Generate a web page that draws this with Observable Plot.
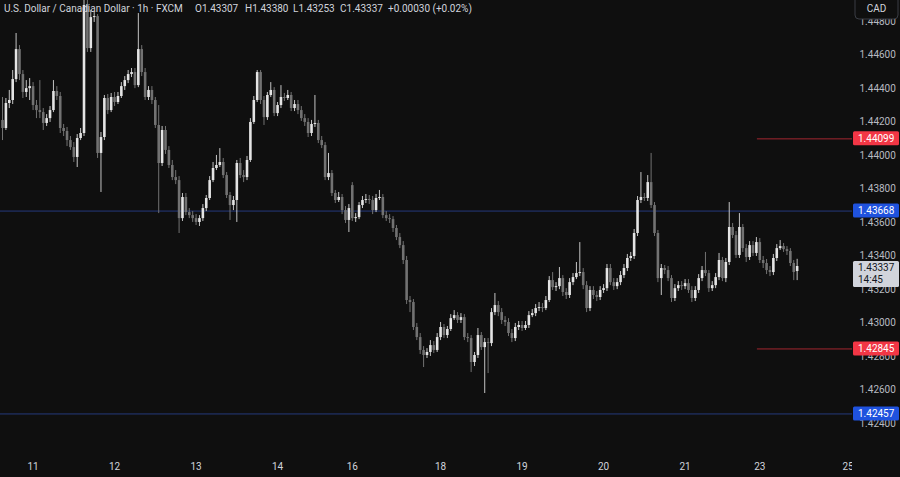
<!DOCTYPE html>
<html>
<head>
<meta charset="utf-8">
<script src="https://cdn.jsdelivr.net/npm/d3@7"></script>
<script src="https://cdn.jsdelivr.net/npm/@observablehq/plot@0.6"></script>
<style>
  html, body { margin:0; padding:0; background:#0f0f0f; }
  #chart { width:900px; height:477px; overflow:hidden; }
  svg { display:block; }
</style>
</head>
<body>
<div id="chart"></div>
<script>
// USD/CAD 1h candles (FXCM)
const open = [
1.44209,1.44161,1.44310,1.44328,1.44453,1.44632,1.44483,1.44376,1.44399,1.44411,
1.44298,1.44268,1.44256,1.44191,1.44220,1.44268,1.44382,1.44352,1.44161,1.44143,
1.44089,1.44047,1.43988,1.44101,1.44131,1.44895,1.44638,1.44823,1.44829,1.44012,
1.44107,1.44340,1.44268,1.44346,1.44316,1.44352,1.44411,1.44447,1.44483,1.44495,
1.44417,1.44632,1.44495,1.44346,1.44388,1.44328,1.44179,1.43952,1.44149,1.44030,
1.43940,1.43868,1.43850,1.43623,1.43749,1.43659,1.43641,1.43623,1.43600,1.43623,
1.43683,1.43743,1.43850,1.43922,1.43940,1.43958,1.43880,1.43761,1.43701,1.43731,
1.43952,1.43880,1.43868,1.43970,1.44197,1.44328,1.44495,1.44328,1.44226,1.44358,
1.44388,1.44250,1.44298,1.44346,1.44340,1.44358,1.44280,1.44304,1.44268,1.44220,
1.44197,1.44131,1.44185,1.44191,1.44089,1.44059,1.43868,1.43892,1.43773,1.43731,
1.43749,1.43671,1.43612,1.43820,1.43623,1.43629,1.43701,1.43731,1.43737,1.43731,
1.43671,1.43743,1.43749,1.43641,1.43623,1.43617,1.43564,1.43510,1.43462,1.43373,
1.43134,1.43122,1.42973,1.42913,1.42836,1.42806,1.42824,1.42865,1.42836,1.42913,
1.42973,1.42925,1.42961,1.43026,1.43044,1.43015,1.43032,1.42913,1.42907,1.42764,
1.42806,1.42925,1.42853,1.42883,1.42877,1.43062,1.43104,1.43062,1.43015,1.43003,
1.42937,1.42907,1.42973,1.42985,1.42967,1.42985,1.43044,1.43056,1.43086,1.43092,
1.43086,1.43134,1.43253,1.43211,1.43217,1.43265,1.43182,1.43164,1.43241,1.43271,
1.43295,1.43301,1.43223,1.43086,1.43194,1.43164,1.43152,1.43194,1.43205,1.43325,
1.43241,1.43217,1.43241,1.43283,1.43325,1.43385,1.43397,1.43534,1.43731,1.43749,
1.43743,1.43838,1.43701,1.43534,1.43265,1.43325,1.43313,1.43265,1.43146,1.43205,
1.43223,1.43217,1.43235,1.43194,1.43146,1.43194,1.43265,1.43313,1.43295,1.43205,
1.43223,1.43271,1.43373,1.43265,1.43361,1.43570,1.43522,1.43403,1.43570,1.43444,
1.43391,1.43462,1.43415,1.43480,1.43373,1.43355,1.43313,1.43301,1.43385,1.43444,
1.43456,1.43438,1.43427,1.43355,1.43307];
const high = [
1.44346,1.44340,1.44388,1.44507,1.44728,1.44656,1.44507,1.44447,1.44459,1.44435,
1.44328,1.44447,1.44280,1.44244,1.44292,1.44447,1.44411,1.44376,1.44185,1.44167,
1.44113,1.44077,1.44125,1.44161,1.44960,1.44940,1.44865,1.44853,1.44841,1.44137,
1.44358,1.44364,1.44370,1.44376,1.44376,1.44435,1.44471,1.44507,1.44519,1.44519,
1.44847,1.44656,1.44519,1.44411,1.44411,1.44346,1.44298,1.44173,1.44173,1.44053,
1.43970,1.43910,1.43874,1.43773,1.43773,1.43683,1.43665,1.43647,1.43641,1.43707,
1.43761,1.43874,1.43958,1.44000,1.44041,1.43982,1.43898,1.43779,1.43755,1.43970,
1.43982,1.43910,1.43994,1.44220,1.44352,1.44507,1.44507,1.44352,1.44376,1.44435,
1.44405,1.44316,1.44417,1.44370,1.44388,1.44376,1.44328,1.44328,1.44292,1.44244,
1.44220,1.44209,1.44358,1.44209,1.44113,1.44077,1.44012,1.43910,1.43791,1.43779,
1.43767,1.43695,1.43707,1.43838,1.43653,1.43719,1.43755,1.43767,1.43761,1.43755,
1.43767,1.43791,1.43767,1.43665,1.43647,1.43635,1.43582,1.43534,1.43486,1.43397,
1.43158,1.43140,1.42997,1.42937,1.42859,1.42847,1.42895,1.42889,1.42937,1.43003,
1.42991,1.42979,1.43050,1.43074,1.43062,1.43056,1.43050,1.42937,1.42925,1.42824,
1.42967,1.42943,1.42907,1.42907,1.43086,1.43176,1.43128,1.43086,1.43038,1.43026,
1.42961,1.42997,1.43009,1.43009,1.43009,1.43068,1.43080,1.43110,1.43122,1.43116,
1.43158,1.43277,1.43301,1.43241,1.43331,1.43283,1.43205,1.43265,1.43295,1.43361,
1.43480,1.43325,1.43247,1.43217,1.43217,1.43188,1.43217,1.43229,1.43349,1.43349,
1.43265,1.43265,1.43307,1.43349,1.43409,1.43421,1.43558,1.43755,1.43898,1.43773,
1.43880,1.44012,1.43719,1.43552,1.43349,1.43343,1.43337,1.43283,1.43229,1.43247,
1.43247,1.43259,1.43259,1.43217,1.43217,1.43289,1.43337,1.43421,1.43313,1.43247,
1.43295,1.43415,1.43391,1.43385,1.43719,1.43594,1.43546,1.43653,1.43588,1.43468,
1.43486,1.43486,1.43510,1.43504,1.43397,1.43379,1.43337,1.43409,1.43468,1.43492,
1.43474,1.43456,1.43444,1.43373,1.43380];
const low = [
1.44089,1.44149,1.44280,1.44304,1.44435,1.44447,1.44340,1.44346,1.44328,1.44268,
1.44220,1.44220,1.44149,1.44173,1.44197,1.44256,1.44328,1.44131,1.44113,1.44053,
1.44030,1.43958,1.43928,1.44089,1.44113,1.44615,1.44615,1.44794,1.43982,1.43779,
1.44089,1.44244,1.44256,1.44292,1.44304,1.44340,1.44388,1.44429,1.44465,1.44399,
1.44405,1.44471,1.44328,1.44328,1.44304,1.44161,1.43653,1.43934,1.44006,1.43922,
1.43850,1.43826,1.43534,1.43606,1.43641,1.43623,1.43600,1.43582,1.43576,1.43606,
1.43665,1.43731,1.43838,1.43910,1.43928,1.43862,1.43743,1.43612,1.43671,1.43600,
1.43862,1.43838,1.43850,1.43958,1.44185,1.44316,1.44304,1.44179,1.44209,1.44346,
1.44232,1.44232,1.44280,1.44322,1.44328,1.44262,1.44262,1.44244,1.44203,1.44173,
1.44107,1.44113,1.44167,1.44071,1.44041,1.43850,1.43850,1.43755,1.43713,1.43719,
1.43647,1.43594,1.43540,1.43606,1.43600,1.43617,1.43683,1.43713,1.43707,1.43647,
1.43659,1.43731,1.43623,1.43606,1.43594,1.43540,1.43492,1.43444,1.43349,1.43110,
1.43062,1.42955,1.42895,1.42812,1.42734,1.42788,1.42800,1.42818,1.42824,1.42895,
1.42907,1.42907,1.42949,1.43015,1.42997,1.42997,1.42895,1.42883,1.42704,1.42740,
1.42788,1.42836,1.42579,1.42698,1.42859,1.43044,1.43038,1.42991,1.42979,1.42919,
1.42883,1.42889,1.42955,1.42949,1.42955,1.42967,1.43032,1.43038,1.43068,1.43062,
1.43074,1.43122,1.43194,1.43188,1.43199,1.43158,1.43140,1.43146,1.43223,1.43259,
1.43277,1.43199,1.43062,1.43068,1.43140,1.43128,1.43134,1.43176,1.43188,1.43223,
1.43194,1.43199,1.43223,1.43265,1.43307,1.43367,1.43379,1.43516,1.43713,1.43725,
1.43725,1.43683,1.43516,1.43241,1.43164,1.43289,1.43247,1.43122,1.43128,1.43188,
1.43194,1.43199,1.43176,1.43122,1.43128,1.43176,1.43247,1.43277,1.43182,1.43188,
1.43205,1.43253,1.43247,1.43241,1.43343,1.43504,1.43385,1.43385,1.43421,1.43361,
1.43373,1.43397,1.43397,1.43355,1.43325,1.43289,1.43277,1.43283,1.43367,1.43433,
1.43421,1.43403,1.43337,1.43253,1.43253];
const close = [
1.44161,1.44310,1.44328,1.44453,1.44632,1.44483,1.44376,1.44399,1.44411,1.44298,
1.44268,1.44256,1.44191,1.44220,1.44268,1.44382,1.44352,1.44161,1.44143,1.44089,
1.44047,1.43988,1.44101,1.44131,1.44895,1.44638,1.44823,1.44829,1.44012,1.44107,
1.44340,1.44268,1.44346,1.44316,1.44352,1.44411,1.44447,1.44483,1.44495,1.44417,
1.44632,1.44495,1.44346,1.44388,1.44328,1.44179,1.43952,1.44149,1.44030,1.43940,
1.43868,1.43850,1.43623,1.43749,1.43659,1.43641,1.43623,1.43600,1.43623,1.43683,
1.43743,1.43850,1.43922,1.43940,1.43958,1.43880,1.43761,1.43701,1.43731,1.43952,
1.43880,1.43868,1.43970,1.44197,1.44328,1.44495,1.44328,1.44226,1.44358,1.44388,
1.44250,1.44298,1.44346,1.44340,1.44358,1.44280,1.44304,1.44268,1.44220,1.44197,
1.44131,1.44185,1.44191,1.44089,1.44059,1.43868,1.43892,1.43773,1.43731,1.43749,
1.43671,1.43612,1.43683,1.43623,1.43629,1.43701,1.43731,1.43737,1.43731,1.43671,
1.43743,1.43749,1.43641,1.43623,1.43617,1.43564,1.43510,1.43462,1.43373,1.43134,
1.43122,1.42973,1.42913,1.42836,1.42806,1.42824,1.42865,1.42836,1.42913,1.42973,
1.42925,1.42961,1.43026,1.43044,1.43015,1.43032,1.42913,1.42907,1.42764,1.42806,
1.42925,1.42853,1.42883,1.42877,1.43062,1.43104,1.43062,1.43015,1.43003,1.42937,
1.42907,1.42973,1.42985,1.42967,1.42985,1.43044,1.43056,1.43086,1.43092,1.43086,
1.43134,1.43253,1.43211,1.43217,1.43265,1.43182,1.43164,1.43241,1.43271,1.43295,
1.43301,1.43223,1.43086,1.43194,1.43164,1.43152,1.43194,1.43205,1.43325,1.43241,
1.43217,1.43241,1.43283,1.43325,1.43385,1.43397,1.43534,1.43731,1.43749,1.43743,
1.43838,1.43701,1.43534,1.43265,1.43325,1.43313,1.43265,1.43146,1.43205,1.43223,
1.43217,1.43235,1.43194,1.43146,1.43194,1.43265,1.43313,1.43295,1.43205,1.43223,
1.43271,1.43373,1.43265,1.43361,1.43570,1.43522,1.43403,1.43570,1.43444,1.43391,
1.43462,1.43415,1.43480,1.43373,1.43355,1.43313,1.43301,1.43385,1.43444,1.43456,
1.43438,1.43427,1.43355,1.43301,1.43337];

// time axis: day labels and the bar index where each day starts
const dayLabels   = ["11","12","13","14","16","18","19","20","21","23","25"];
const dayStartBar = [9, 33, 57, 81, 103, 129, 153, 177, 201, 223, 249];
// price axis ticks
const priceTicks = [1.424,1.426,1.428,1.430,1.432,1.434,1.436,1.438,1.440,1.442,1.444,1.446,1.448];
// horizontal levels
const blueLevels = [1.43668, 1.42457];
const redLevels  = [1.44099, 1.42845];
const redLineFromBar = 222.3;
const symbolTitle = "U.S. Dollar / Canadian Dollar · 1h · FXCM";
const currency = "CAD";
const countdown = "14:45";

const bars = close.map((c, i) => ({i, o: open[i], h: high[i], l: low[i], c, up: c >= open[i]}));
const last = bars[bars.length - 1];
const f5 = d3.format(".5f");

const UP_BODY = "#e4e4e4", DN_BODY = "#727272", UP_WICK = "#c4c4c4", DN_WICK = "#727272";
const FONT = "Roboto, 'Liberation Sans', sans-serif";
const FRAME_RIGHT = 852;
const X_DOMAIN = [-0.589, 250.3];

const chart = Plot.plot({
  width: 900, height: 477,
  marginTop: 0, marginRight: 900 - FRAME_RIGHT, marginBottom: 0, marginLeft: 0,
  style: {background: "#0f0f0f", fontFamily: FONT, fontSize: "10px", color: "#b2b5be", overflow: "visible"},
  x: {type: "linear", domain: X_DOMAIN, range: [0, FRAME_RIGHT], axis: null},
  y: {type: "linear", domain: [1.42197, 1.44925], range: [457, 0], axis: null},
  marks: [
    Plot.axisY({anchor: "right", ticks: priceTicks, tickSize: 0, tickPadding: 7,
      tickFormat: f5, fill: "#b7bac1", fontSize: 10, textAnchor: "start"}),
    Plot.ruleY(blueLevels, {stroke: "#25397c", strokeWidth: 1}),
    Plot.ruleY(redLevels, {x1: redLineFromBar, x2: X_DOMAIN[1], stroke: "#a3262f", strokeWidth: 1}),
    Plot.ruleX(bars, {x: "i", y1: "l", y2: "h", stroke: d => d.up ? UP_WICK : DN_WICK, strokeWidth: 1, clip: true}),
    Plot.ruleX(bars, {x: "i", y1: "o", y2: "c", stroke: d => d.up ? UP_BODY : DN_BODY, strokeWidth: 2.6, clip: true}),
    Plot.text(dayLabels, {x: (d, k) => dayStartBar[k], text: d => d, frameAnchor: "bottom", dy: -8,
      fill: "#d1d4dc", fontSize: 10, clip: true})
  ]
});

const svg = d3.select(chart);
const ys = chart.scale("y");
const TAG_X = 853, TAG_W = 46;

function addText(x, y, str, fill, anchor) {
  return svg.append("text").attr("x", x).attr("y", y).attr("dy", "0.35em")
    .attr("text-anchor", anchor || "start").attr("fill", fill)
    .attr("font-family", FONT).attr("font-size", 10).text(str);
}

function tag(price, fill, textFill) {
  const y = ys.apply(price);
  svg.append("rect").attr("x", TAG_X).attr("y", y - 7).attr("width", TAG_W).attr("height", 14)
    .attr("rx", 1.5).attr("fill", fill);
  addText(TAG_X + 5, y, f5(price), textFill);
}
redLevels.forEach(p => tag(p, "#f23645", "#ffffff"));
blueLevels.forEach(p => tag(p, "#1f52de", "#ffffff"));

// current price tag with countdown
{
  const y = ys.apply(last.c);
  svg.append("rect").attr("x", TAG_X).attr("y", y - 5).attr("width", TAG_W).attr("height", 26)
    .attr("rx", 1.5).attr("fill", "#d1d4dc");
  addText(TAG_X + 5, y + 1, f5(last.c), "#131722");
  addText(TAG_X + 5, y + 13, countdown, "#131722");
}

// currency box
svg.append("rect").attr("x", 855).attr("y", -6).attr("width", 43).attr("height", 25).attr("rx", 4)
  .attr("fill", "#0f0f0f").attr("stroke", "#3a3d45");
addText(876.5, 8, currency, "#d1d4dc", "middle");

// legend header
const chg = last.c - last.o;
const pct = chg / last.o * 100;
const sign = v => (v >= 0 ? "+" : "");
const headerParts = [
  {x: 4,   t: symbolTitle},
  {x: 195, t: "O" + f5(last.o)},
  {x: 245, t: "H" + f5(last.h)},
  {x: 293, t: "L" + f5(last.l)},
  {x: 340, t: "C" + f5(last.c)},
  {x: 388, t: sign(chg) + f5(chg) + " (" + sign(pct) + pct.toFixed(2) + "%)"}
];
headerParts.forEach(p => addText(p.x, 8, p.t, "#d1d4dc"));

document.getElementById("chart").appendChild(chart);
</script>
</body>
</html>
